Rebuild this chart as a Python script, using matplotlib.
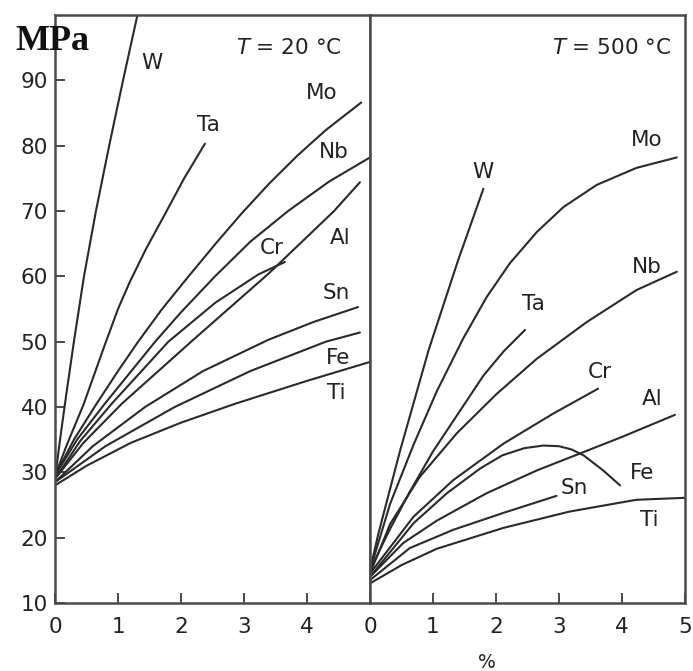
import matplotlib
matplotlib.use("Agg")
import matplotlib.pyplot as plt

# ── Data (x in %, y in MPa) ───────────────────────────────────────────────────

# T = 20 °C
w20_x  = [0.0, 0.08, 0.18, 0.30, 0.46, 0.65, 0.86, 1.08, 1.32]
w20_y  = [29.0, 35.0, 42.0, 50.0, 60.0, 70.0, 80.0, 90.0, 100.5]
ta20_x = [0.0, 0.20, 0.45, 0.79, 1.00, 1.19, 1.45, 1.75, 2.05, 2.38]
ta20_y = [29.5, 34.5, 40.3, 49.5, 55.0, 59.2, 64.3, 69.6, 75.0, 80.3]
mo20_x = [0.0, 0.30, 0.66, 1.00, 1.32, 1.70, 2.12, 2.55, 2.96, 3.40, 3.85, 4.30, 4.86]
mo20_y = [29.5, 35.0, 40.5, 45.5, 50.0, 55.0, 60.0, 65.0, 69.6, 74.2, 78.5, 82.4, 86.6]
nb20_x = [0.0, 0.35, 0.79, 1.59, 2.00, 2.54, 3.10, 3.70, 4.35, 5.0]
nb20_y = [29.5, 35.0, 40.5, 50.0, 54.5, 60.0, 65.3, 70.0, 74.5, 78.2]
cr20_x = [0.0, 0.40, 0.90, 1.80, 2.55, 3.23, 3.65]
cr20_y = [29.0, 34.8, 40.5, 50.0, 56.0, 60.3, 62.2]
al20_x = [0.0, 0.45, 1.06, 2.22, 3.40, 4.43, 4.84]
al20_y = [29.0, 34.5, 40.5, 50.5, 60.5, 70.0, 74.4]
sn20_x = [0.0, 0.60, 1.43, 2.35, 3.39, 4.10, 4.81]
sn20_y = [28.5, 34.0, 40.0, 45.5, 50.3, 53.0, 55.3]
fe20_x = [0.0, 0.80, 1.90, 3.10, 4.30, 4.84]
fe20_y = [28.5, 34.0, 40.0, 45.5, 50.0, 51.4]
ti20_x = [0.0, 0.50, 1.20, 2.00, 2.86, 4.00, 5.0]
ti20_y = [28.0, 31.0, 34.5, 37.6, 40.5, 44.0, 46.9]

# T = 500 °C
w500_x  = [0.0, 0.13, 0.48, 0.93, 1.40, 1.80]
w500_y  = [15.0, 20.5, 33.4, 48.7, 62.5, 73.4]
mo500_x = [0.0, 0.32, 0.69, 1.06, 1.48, 1.85, 2.22, 2.65, 3.07, 3.60, 4.23, 4.87]
mo500_y = [15.0, 25.2, 34.2, 42.4, 50.5, 56.8, 62.0, 66.8, 70.6, 74.0, 76.6, 78.2]
ta500_x = [0.0, 0.30, 0.63, 1.00, 1.40, 1.80, 2.12, 2.46]
ta500_y = [15.0, 21.0, 27.0, 33.2, 39.0, 44.8, 48.5, 51.8]
nb500_x = [0.0, 0.32, 0.79, 1.38, 2.01, 2.65, 3.44, 4.23, 4.87]
nb500_y = [14.5, 22.1, 29.3, 36.0, 42.0, 47.4, 53.0, 57.9, 60.7]
cr500_x = [0.0, 0.69, 1.32, 2.12, 2.91, 3.62]
cr500_y = [14.5, 23.2, 28.8, 34.4, 39.0, 42.8]
al500_x = [0.0, 0.53, 1.06, 1.85, 2.65, 3.39, 4.02, 4.84]
al500_y = [14.0, 19.2, 22.6, 26.8, 30.3, 33.1, 35.5, 38.8]
fe500_x = [0.0, 0.69, 1.22, 1.75, 2.10, 2.45, 2.75, 3.00, 3.20, 3.39, 3.70, 3.97]
fe500_y = [14.0, 22.2, 26.8, 30.6, 32.6, 33.7, 34.1, 34.0, 33.5, 32.6, 30.3, 28.0]
sn500_x = [0.0, 0.63, 1.32, 2.12, 2.96]
sn500_y = [13.5, 18.4, 21.2, 23.8, 26.4]
ti500_x = [0.0, 0.50, 1.06, 2.12, 3.17, 4.23, 5.0]
ti500_y = [13.0, 15.8, 18.3, 21.5, 24.0, 25.8, 26.1]

curves20 = [(w20_x, w20_y), (ta20_x, ta20_y), (mo20_x, mo20_y), (nb20_x, nb20_y),
            (cr20_x, cr20_y), (al20_x, al20_y), (sn20_x, sn20_y), (fe20_x, fe20_y),
            (ti20_x, ti20_y)]
curves500 = [(w500_x, w500_y), (mo500_x, mo500_y), (ta500_x, ta500_y),
             (nb500_x, nb500_y), (cr500_x, cr500_y), (al500_x, al500_y),
             (fe500_x, fe500_y), (sn500_x, sn500_y), (ti500_x, ti500_y)]

# curve labels: name, x, y
labels20 = [("W", 1.54, 92.7), ("Ta", 2.43, 83.1), ("Mo", 4.23, 88.1),
            ("Nb", 4.42, 79.0), ("Cr", 3.44, 64.3), ("Al", 4.52, 65.8),
            ("Sn", 4.47, 57.4), ("Fe", 4.50, 47.5), ("Ti", 4.47, 42.1)]
labels500 = [("W", 1.79, 75.9), ("Mo", 4.39, 80.8), ("Nb", 4.39, 61.4),
             ("Ta", 2.59, 55.7), ("Cr", 3.65, 45.3), ("Al", 4.48, 41.3),
             ("Fe", 4.32, 29.9), ("Sn", 3.25, 27.6), ("Ti", 4.44, 22.7)]

y_ticks = [10, 20, 30, 40, 50, 60, 70, 80, 90]
x_ticks_left = [0, 1, 2, 3, 4]
x_ticks_right = [0, 1, 2, 3, 4, 5]

# ── Style ─────────────────────────────────────────────────────────────────────
LC = "#2a2a2a"
SC = "#4a4a4a"
LW = 1.5
FS = 15.5

plt.rcParams["font.family"] = "DejaVu Sans"
plt.rcParams["mathtext.fontset"] = "dejavusans"

fig = plt.figure(figsize=(6.93, 6.71), dpi=100)
W_, H_ = 693, 671
left, right, bottom, top = 55 / W_, 685 / W_, 1 - 603 / H_, 1 - 15 / H_
mid = 370 / W_
ax1 = fig.add_axes([left, bottom, mid - left, top - bottom])
ax2 = fig.add_axes([mid, bottom, right - mid, top - bottom])

for ax, curves, labs, xt in ((ax1, curves20, labels20, x_ticks_left),
                             (ax2, curves500, labels500, x_ticks_right)):
    for xs, ys in curves:
        ax.plot(xs, ys, color=LC, lw=LW, solid_capstyle="round",
                solid_joinstyle="round")
    for name, x, y in labs:
        ax.text(x, y, name, fontsize=FS, ha="center", va="center", color="#222222")
    ax.set_xlim(0, 5)
    ax.set_ylim(10, 100)
    ax.set_xticks(xt)
    for sp in ax.spines.values():
        sp.set_color(SC)
        sp.set_linewidth(1.8)
    ax.tick_params(direction="in", length=7, width=1.4, color=SC,
                   labelsize=FS, labelcolor="#222222")
    ax.tick_params(axis="x", pad=10)

ax1.set_yticks(y_ticks)
ax1.tick_params(axis="y", pad=5)
ax2.set_yticks([])

ax1.text(4.55, 94.9, r"$T$ = 20 °C", fontsize=FS, ha="right", va="center", color="#222222")
ax2.text(4.78, 95.0, r"$T$ = 500 °C", fontsize=FS, ha="right", va="center", color="#222222")

fig.text(15 / W_, 1 - 42 / H_, "MPa", fontsize=26, fontweight="bold",
         family="Liberation Serif", ha="left", va="center", color="#111111")
fig.text(487 / W_, 1 - 663 / H_, "%", fontsize=FS - 2, ha="center", va="center",
         color="#222222")

fig.savefig("out.png", dpi=100)
